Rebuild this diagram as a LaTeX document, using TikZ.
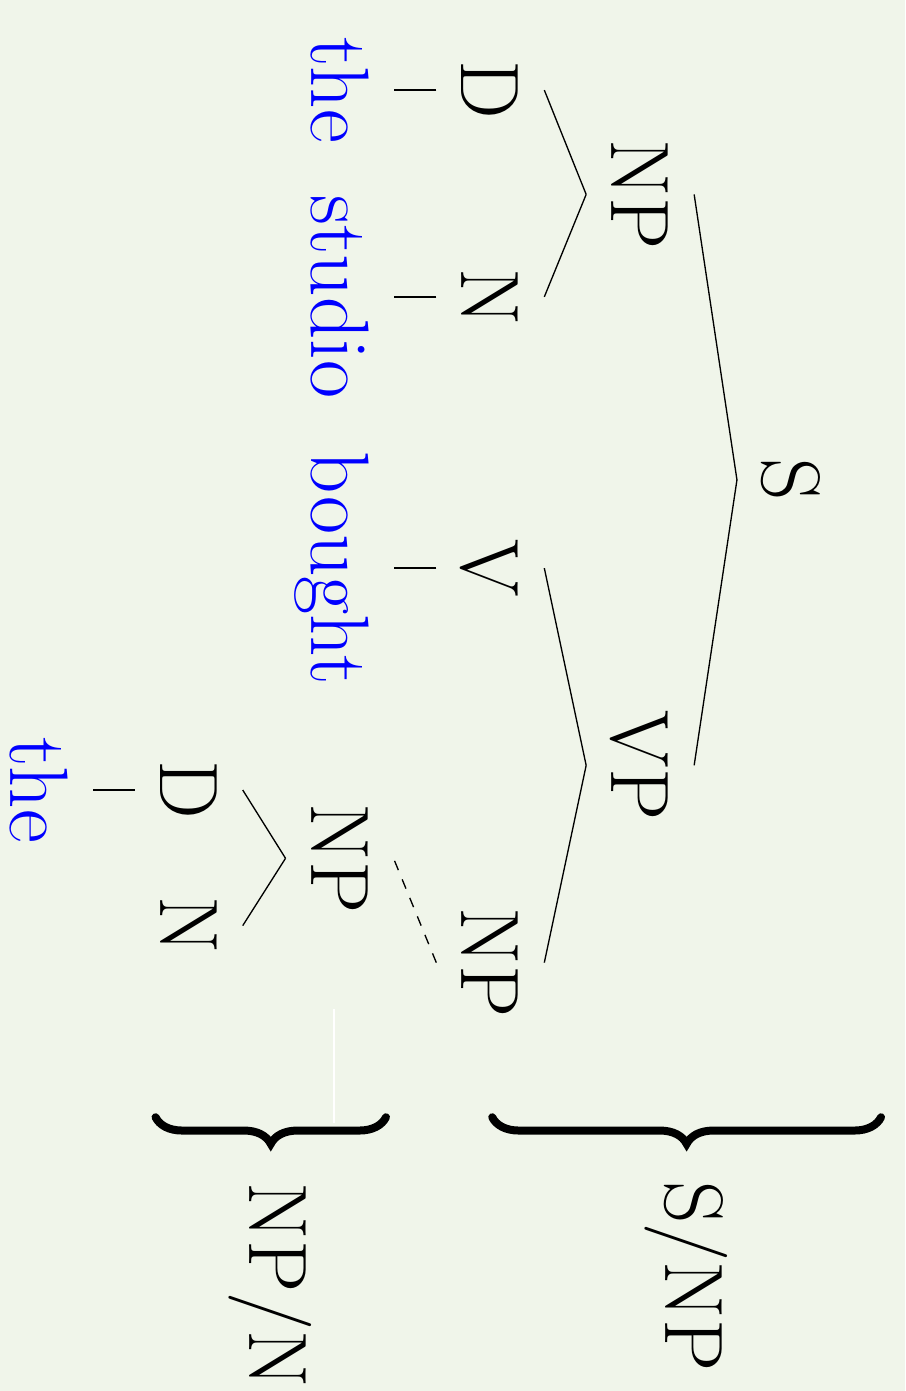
\documentclass[tikz,border=0pt]{standalone}
\usepackage{tikz}
\usetikzlibrary{decorations.pathreplacing}
\definecolor{tree@bg}{RGB}{240,245,234}
\definecolor{tree@word}{RGB}{0,0,255}
\tikzset{
  cat/.style={                     % category label
    font=\Huge,
    text height=17pt, text depth=0pt,
    minimum height=32pt,
    inner sep=0pt
  },
  word/.style={cat, text=tree@word},  % lexical item
  branch/.style={line width=0.4pt},
  trace/.style={branch, dashed},
  bracket/.style={
    decorate, decoration={brace, amplitude=8pt},
    line width=2.4pt, line cap=round
  }
}

\begin{document}
\begin{tikzpicture}[rotate=-90, transform shape]
\fill[tree@bg] (0,0) rectangle (14.667,9.543);
\useasboundingbox (0,0) rectangle (14.667,9.543);

% Root
\node[cat] (s) at (5.06,8.34) {S};

% Level 1
\node[cat] (np) at (2.05,6.75) {NP};
\node[cat] (vp) at (8.07,6.75) {VP};

% Level 2
\node[cat] (d)     at ( 0.95,5.17) {D};
\node[cat] (n)     at ( 3.13,5.17) {N};
\node[cat] (v)     at ( 5.99,5.17) {V};
\node[cat] (npobj) at (10.15,5.17) {NP};

% Words
\node[word] (the)    at (0.95,3.58) {the};
\node[word] (studio) at (3.13,3.58) {studio};
\node[word] (bought) at (5.99,3.58) {bought};

% Fragment
\node[cat]  (npdet)  at (9.05,3.58) {NP};
\node[cat]  (ddet)   at (8.33,1.99) {D};
\node[cat]  (ndet)   at (9.76,1.99) {N};
\node[word] (thedet) at (8.33,0.41) {the};

% Edges
\draw[branch] (s.south) -- (np.north);
\draw[branch] (s.south) -- (vp.north);
\draw[branch] (np.south) -- (d.north);
\draw[branch] (np.south) -- (n.north);
\draw[branch] (vp.south) -- (v.north);
\draw[branch] (vp.south) -- (npobj.north);
\draw[branch] (d.south) -- (the.north);
\draw[branch] (n.south) -- (studio.north);
\draw[branch] (v.south) -- (bought.north);
\draw[branch] (npdet.south) -- (ddet.north);
\draw[branch] (npdet.south) -- (ndet.north);
\draw[branch] (ddet.south) -- (thedet.north);
\draw[trace] (npobj.south) -- (npdet.north);

% Braces and types
\coordinate (wtop) at (10.64,3.52);
\coordinate (wbot) at (11.84,3.52);
\draw[white, line width=0.4pt] (wtop) -- (wbot);

\draw[bracket] (11.78,9.29) -- (11.78,5.19);
\draw[bracket] (11.78,4.07) -- (11.78,1.64);
\node[cat] (snp) at (13.46,7.32) {S/NP};
\node[cat] (npn) at (13.55,2.93) {NP/N};

\end{tikzpicture}
\end{document}
